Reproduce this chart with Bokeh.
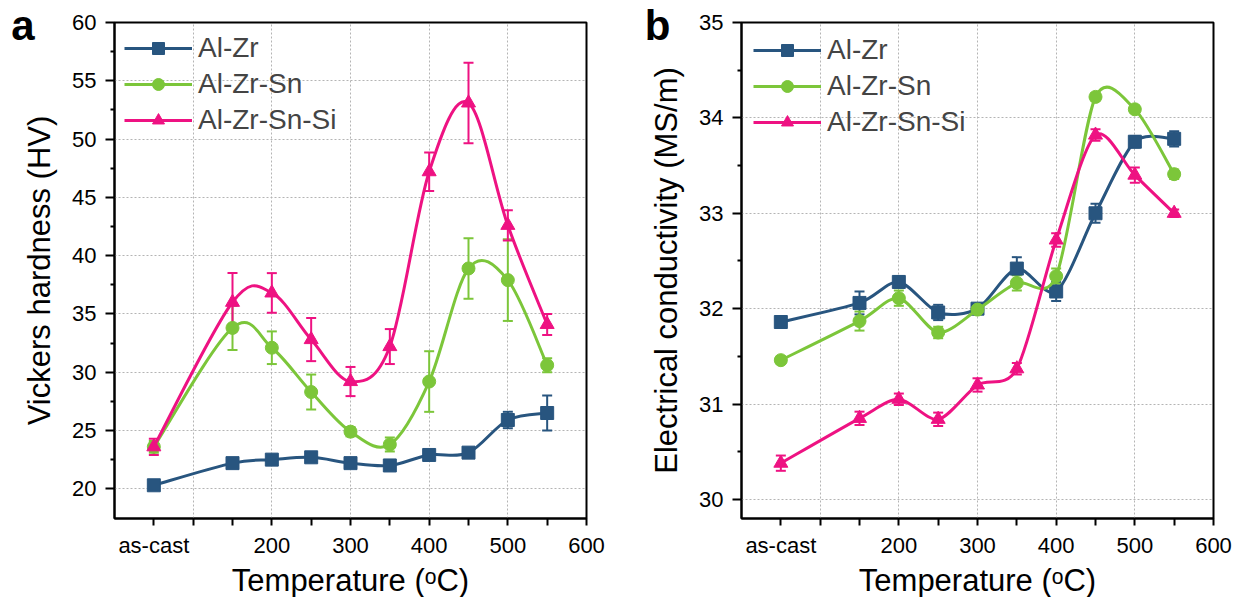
from bokeh.plotting import figure
from bokeh.layouts import row
from bokeh.models import (ColumnDataSource, Whisker, TeeHead, FixedTicker, Legend,
                          LegendItem, LinearAxis)
from bokeh.embed import file_html
from bokeh.resources import INLINE

# ---------------- data ----------------
temps = [50, 150, 200, 250, 300, 350, 400, 450, 500, 550]
x_tick_labels = {50: "as-cast", 100: "", 150: "", 200: "200", 250: "", 300: "300",
                 350: "", 400: "400", 450: "", 500: "500", 550: "", 600: "600"}
series_names = ["Al-Zr", "Al-Zr-Sn", "Al-Zr-Sn-Si"]

hv_zr = [20.3, 22.2, 22.5, 22.7, 22.2, 22.0, 22.9, 23.1, 25.9, 26.5]
hv_zr_err = [0.3, 0.4, 0.3, 0.3, 0.3, 0.4, 0.3, 0.3, 0.7, 1.5]
hv_sn = [23.6, 33.8, 32.1, 28.3, 24.9, 23.8, 29.2, 38.9, 37.9, 30.6]
hv_sn_err = [0.5, 1.9, 1.4, 1.5, 0.4, 0.6, 2.6, 2.6, 3.5, 0.6]
hv_si = [23.6, 36.0, 36.8, 32.8, 29.2, 32.2, 47.2, 53.1, 42.6, 34.1]
hv_si_err = [0.7, 2.5, 1.7, 1.85, 1.25, 1.5, 1.65, 3.45, 1.3, 0.9]

ec_zr = [31.86, 32.06, 32.28, 31.96, 32.0, 32.42, 32.18, 33.0, 33.75, 33.78]
ec_zr_err = [0.06, 0.12, 0.06, 0.08, 0.04, 0.12, 0.1, 0.1, 0.06, 0.08]
ec_sn = [31.46, 31.87, 32.11, 31.75, 31.99, 32.27, 32.34, 34.22, 34.09, 33.41]
ec_sn_err = [0.04, 0.1, 0.08, 0.06, 0.05, 0.08, 0.08, 0.04, 0.04, 0.05]
ec_si = [30.38, 30.85, 31.05, 30.84, 31.2, 31.37, 32.72, 33.82, 33.4, 33.0]
ec_si_err = [0.08, 0.07, 0.06, 0.07, 0.07, 0.06, 0.07, 0.06, 0.08, 0.04]

colors = ["#28557f", "#7cc63a", "#ee1282"]
markers = ["square", "circle", "triangle"]
marker_sizes = [13, 13, 14]

FONT = "Liberation Sans"


def smooth_connection(p, x, y, color, k):
    """Smooth (Catmull-Rom style) Bezier connection through the measured points."""
    n = len(x)
    seg = dict(x0=[], y0=[], x1=[], y1=[], cx0=[], cy0=[], cx1=[], cy1=[])
    for i in range(n - 1):
        ip, inn = max(i - 1, 0), min(i + 2, n - 1)
        seg["x0"].append(x[i]); seg["y0"].append(y[i])
        seg["x1"].append(x[i + 1]); seg["y1"].append(y[i + 1])
        seg["cx0"].append(x[i] + k * (x[i + 1] - x[ip]) / 6)
        seg["cy0"].append(y[i] + k * (y[i + 1] - y[ip]) / 6)
        seg["cx1"].append(x[i + 1] - k * (x[inn] - x[i]) / 6)
        seg["cy1"].append(y[i + 1] - k * (y[inn] - y[i]) / 6)
    return p.bezier(source=ColumnDataSource(seg), x0="x0", y0="y0", x1="x1", y1="y1",
                    cx0="cx0", cy0="cy0", cx1="cx1", cy1="cy1",
                    line_color=color, line_width=3)


def make_panel(letter, ys, errs, ylabel, yr, yticks, yminor, min_left, min_right,
               legend_pad, k, letter_standoff):
    p = figure(frame_width=472, frame_height=496, x_range=(0, 600), y_range=yr,
               output_backend="svg", toolbar_location=None,
               min_border_left=min_left, min_border_right=min_right,
               min_border_top=22, min_border_bottom=79)
    p.background_fill_color = "white"
    p.border_fill_color = "white"
    p.outline_line_color = "black"
    p.outline_line_width = 2

    items = []
    for name, y, e, c, m, s in zip(series_names, ys, errs, colors, markers, marker_sizes):
        src = ColumnDataSource(dict(x=temps, y=y,
                                    lo=[a - b for a, b in zip(y, e)],
                                    hi=[a + b for a, b in zip(y, e)]))
        ln = smooth_connection(p, temps, y, c, k)
        w = Whisker(base="x", lower="lo", upper="hi", source=src, line_color=c,
                    line_width=2,
                    upper_head=TeeHead(size=10, line_color=c, line_width=2),
                    lower_head=TeeHead(size=10, line_color=c, line_width=2))
        p.add_layout(w)
        sc = p.scatter(x="x", y="y", source=src, marker=m, size=s,
                       fill_color=c, line_color=c)
        items.append(LegendItem(label=name, renderers=[ln, sc]))

    leg = Legend(items=items, location="top_left", margin=0, padding=legend_pad,
                 glyph_width=68, glyph_height=30, label_height=30, spacing=4,
                 label_standoff=6, label_text_font=FONT, label_text_font_size="28px",
                 border_line_alpha=0, background_fill_alpha=0)
    p.add_layout(leg)

    xa = p.xaxis[0]
    xa.ticker = FixedTicker(ticks=sorted(x_tick_labels.keys()), minor_ticks=[])
    xa.major_label_overrides = {k2: v for k2, v in x_tick_labels.items()}
    xa.axis_label = "Temperature (ᵒC)"
    ya = p.yaxis[0]
    ya.ticker = FixedTicker(ticks=yticks, minor_ticks=yminor)
    ya.axis_label = ylabel
    for ax in (xa, ya):
        ax.axis_line_width = 2
        ax.axis_line_color = "black"
        ax.major_tick_line_width = 2
        ax.minor_tick_line_width = 2
        ax.major_tick_in = 0
        ax.minor_tick_in = 0
        ax.major_label_text_font = FONT
        ax.major_label_text_font_size = "22px"
        ax.major_label_text_color = "black"
        ax.axis_label_text_font = FONT
        ax.axis_label_text_font_size = "31px"
        ax.axis_label_text_font_style = "normal"
        ax.axis_label_text_color = "black"
    xa.major_tick_out = 7
    xa.major_label_standoff = 7
    xa.axis_label_standoff = 2
    ya.major_tick_out = 9
    ya.minor_tick_out = 4
    ya.major_label_standoff = 9
    ya.axis_label_standoff = 12

    # panel letter: an outer, line-less axis carrying a single tick label
    top = yticks[-1]
    la = LinearAxis(ticker=FixedTicker(ticks=[top], minor_ticks=[]),
                    major_label_overrides={top: letter},
                    axis_line_color=None, major_tick_line_color=None,
                    minor_tick_line_color=None, major_tick_out=0, major_tick_in=0,
                    minor_tick_out=0, minor_tick_in=0,
                    major_label_standoff=letter_standoff,
                    major_label_text_font=FONT, major_label_text_font_size="42px",
                    major_label_text_font_style="bold",
                    major_label_text_color="black")
    p.add_layout(la, "left")

    p.xgrid.ticker = FixedTicker(ticks=[100, 200, 300, 400, 500])
    p.ygrid.ticker = FixedTicker(ticks=yticks)
    for g in (p.xgrid[0], p.ygrid[0]):
        g.grid_line_color = "#b4b4b4"
        g.grid_line_dash = "2 2"
        g.grid_line_width = 1
    return p


pa = make_panel("a", [hv_zr, hv_sn, hv_si], [hv_zr_err, hv_sn_err, hv_si_err],
                "Vickers hardness (HV)", (17.45, 60),
                [20, 25, 30, 35, 40, 45, 50, 55, 60],
                [22.5, 27.5, 32.5, 37.5, 42.5, 47.5, 52.5, 57.5], 114, 34, 10, 1.0, -15)
pb = make_panel("b", [ec_zr, ec_sn, ec_si], [ec_zr_err, ec_sn_err, ec_si_err],
                "Electrical conductivity (MS/m)", (29.8, 35),
                [30, 31, 32, 33, 34, 35],
                [30.5, 31.5, 32.5, 33.5, 34.5], 121, 28, 12, 0.85, -24)

layout = row(pa, pb)
open("out.html", "w").write(file_html(layout, INLINE))
